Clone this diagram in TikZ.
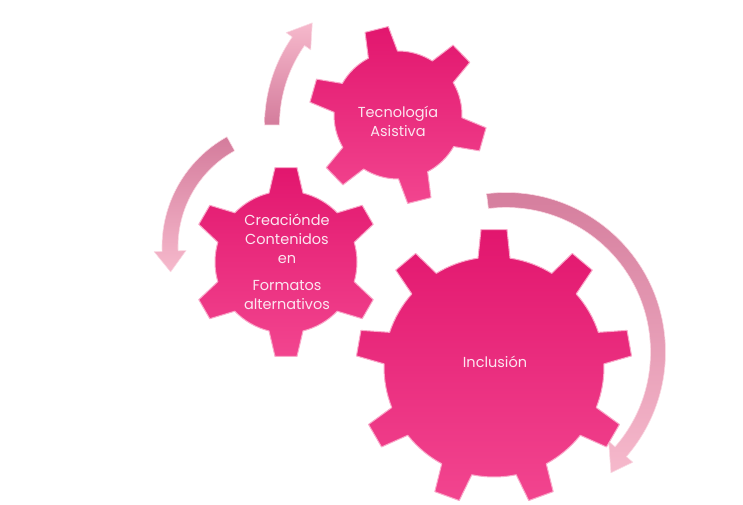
\documentclass[tikz,border=0pt]{standalone}
\usepackage{fontspec}
\setmainfont{Poppins}
\usetikzlibrary{calc}
\definecolor{GearTop}{HTML}{E2166E}
\definecolor{GearBottom}{HTML}{F2458F}
\definecolor{GearEdge}{HTML}{F9A8C9}
\definecolor{ArrowDark}{HTML}{D47C9C}
\definecolor{ArrowLight}{HTML}{F6B9CC}
\definecolor{GearText}{HTML}{FCE6F0}
\tikzset{
    % Gear body
    gear/.style={
        top color=GearTop,
        bottom color=GearBottom,
        draw=GearEdge,
        line width=1pt,
        line join=round
    },
    % Curved arrow band
    cyclearrow/.style={
        draw=white!45!ArrowLight,
        line width=0.6pt,
        line join=round
    },
    % Gear label
    gearlabel/.style={
        text=GearText,
        align=center,
        font=\fontsize{14.5}{19}\selectfont
    }
}
% gear: center, teeth, body radius, outer radius, base half width, tip half width, first tooth angle
\newcommand{\drawgear}[7]{%
  \pgfmathsetmacro\gstep{360/#2}%
  \pgfmathsetmacro\gbase{asin(#5/#3)}%
  \pgfmathsetmacro\gtip{asin(#6/#4)}%
  \pgfmathtruncatemacro\glast{#2-1}%
  \path[gear, shift={(#1)}] ({#7-\gbase}:#3)
    \foreach \k in {0,...,\glast}{
      -- ({#7+\k*\gstep-\gtip}:#4) -- ({#7+\k*\gstep+\gtip}:#4)
      -- ({#7+\k*\gstep+\gbase}:#3)
      arc[start angle={#7+\k*\gstep+\gbase}, end angle={#7+(\k+1)*\gstep-\gbase}, radius=#3]
    } -- cycle;
}
% arrow: center, radius, half band, tail angle, head angle, tip, head half width, shading
\newcommand{\drawcycle}[8]{%
  \path[cyclearrow, #8, shift={(#1)}] ({#4}:{#2+#3})
    arc[start angle=#4, end angle=#5, radius={#2+#3}]
    -- ({#5}:{#2+#7}) -- (#6) -- ({#5}:{#2-#7}) -- ({#5}:{#2-#3})
    arc[start angle=#5, end angle=#4, radius={#2-#3}] -- cycle;
}

\begin{document}
\begin{tikzpicture}[x=1pt, y=1pt]
    \useasboundingbox (0,0) rectangle (743,505);

    % gear centres
    \coordinate (tecC) at (398,390);
    \coordinate (creaC) at (286,243);
    \coordinate (inclC) at (494,138);

    % arrows
    \coordinate (bigO) at (506,153);
    \coordinate (leftO) at (288,258);
    \coordinate (topO) at (418,380);
    \drawcycle{bigO}{152}{7.5}{97}{-41}{-49:160}{16}{top color=ArrowDark, bottom color=ArrowLight}
    \drawcycle{leftO}{118}{8}{119}{182}{192:120}{16}{top color=ArrowDark, bottom color=ArrowLight}
    \drawcycle{topO}{146}{7.5}{180}{145}{136:147}{15}{top color=ArrowLight, bottom color=ArrowDark}

    % gears
    \drawgear{tecC}{6}{64}{89}{15}{12}{44}
    \drawgear{creaC}{6}{71}{95}{17}{11}{30}
    \drawgear{inclC}{9}{110}{138}{16}{13}{90}

    % labels
    \node (tec) [gearlabel] at (398,384) {Tecnología\\Asistiva};
    \node (crea) [gearlabel] at (287,243) {Creaciónde\\Contenidos\\en\\[8pt]Formatos\\alternativos};
    \node (incl) [gearlabel] at (495,143) {Inclusión};
\end{tikzpicture}
\end{document}
